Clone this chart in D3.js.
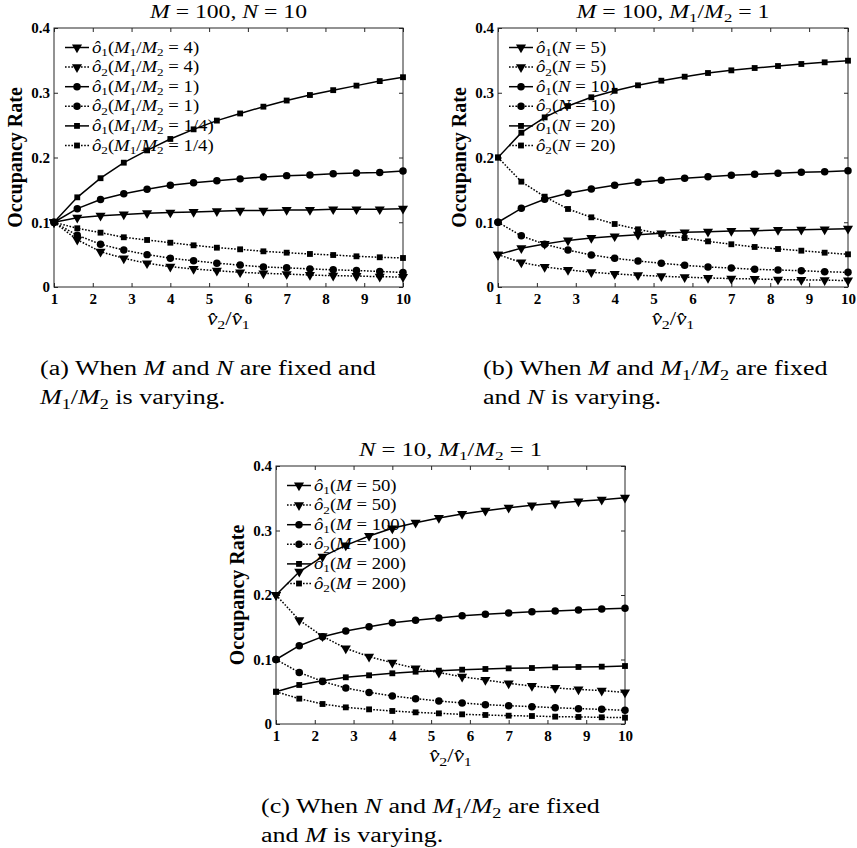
<!DOCTYPE html>
<html>
<head>
<meta charset="utf-8">
<script src="https://cdn.jsdelivr.net/npm/d3@7"></script>
<style>
  html, body { margin: 0; padding: 0; background: #fff; }
  svg { display: block; }
  svg text { font-family: "Liberation Serif", "Times New Roman", serif !important; white-space: pre; }
</style>
</head>
<body>
<svg id="fig" width="857" height="848" font-family="Liberation Serif, serif"></svg>
<script>
// Speed ratio v2/v1 sampled along the x axis
const vRatio = [1, 1.6, 2.2, 2.8, 3.4, 4, 4.6, 5.2, 5.8, 6.4, 7, 7.6, 8.2, 8.8, 9.4, 10];
const xTicks = [1, 2, 3, 4, 5, 6, 7, 8, 9, 10];
const yTicks = [0, 0.1, 0.2, 0.3, 0.4];
const yTickLabels = ["0", "0.1", "0.2", "0.3", "0.4"];

// (a) M = 100, N = 10, varying M1/M2
const a_o1_r4  = [0.100, 0.107, 0.110, 0.112, 0.114, 0.115, 0.116, 0.117, 0.118, 0.118, 0.119, 0.119, 0.120, 0.120, 0.120, 0.121];
const a_o2_r4  = [0.100, 0.073, 0.0545, 0.0443, 0.0366, 0.0314, 0.0278, 0.0252, 0.0227, 0.0211, 0.0200, 0.0185, 0.0175, 0.0170, 0.0159, 0.0154];
const a_o1_r1  = [0.100, 0.121, 0.135, 0.144, 0.151, 0.157, 0.161, 0.164, 0.167, 0.170, 0.172, 0.173, 0.175, 0.176, 0.177, 0.179];
const a_o2_r1  = [0.100, 0.080, 0.066, 0.057, 0.050, 0.0445, 0.0405, 0.0368, 0.0338, 0.0310, 0.0296, 0.0280, 0.0265, 0.0255, 0.0240, 0.0225];
const a_o1_r14 = [0.100, 0.1385, 0.168, 0.192, 0.211, 0.2286, 0.2435, 0.257, 0.268, 0.2785, 0.288, 0.2965, 0.304, 0.311, 0.318, 0.324];
const a_o2_r14 = [0.100, 0.0907, 0.0839, 0.0768, 0.0726, 0.0684, 0.0644, 0.0607, 0.0582, 0.0551, 0.0530, 0.0510, 0.0494, 0.0474, 0.0459, 0.0448];

// (b) M = 100, M1/M2 = 1, varying N
const b_o1_n5  = [0.050, 0.060, 0.0664, 0.072, 0.0757, 0.0783, 0.0808, 0.0829, 0.0844, 0.0854, 0.0865, 0.0870, 0.0880, 0.0885, 0.0890, 0.0900];
const b_o2_n5  = [0.050, 0.038, 0.031, 0.0265, 0.0228, 0.0202, 0.0182, 0.0166, 0.0152, 0.0140, 0.0130, 0.0124, 0.0115, 0.0110, 0.0105, 0.0100];
const b_o1_n10 = [0.100, 0.1215, 0.1354, 0.1447, 0.1514, 0.157, 0.1617, 0.1648, 0.168, 0.1704, 0.1725, 0.174, 0.1756, 0.1771, 0.178, 0.1796];
const b_o2_n10 = [0.100, 0.079, 0.066, 0.057, 0.0494, 0.0443, 0.0402, 0.0366, 0.0335, 0.0309, 0.0293, 0.0273, 0.0263, 0.0252, 0.0236, 0.0227];
const b_o1_n20 = [0.200, 0.2383, 0.262, 0.2795, 0.293, 0.303, 0.3115, 0.3186, 0.3248, 0.3305, 0.3346, 0.3382, 0.3413, 0.3444, 0.347, 0.3495];
const b_o2_n20 = [0.200, 0.1627, 0.1395, 0.1205, 0.1076, 0.0973, 0.0891, 0.0819, 0.0757, 0.0705, 0.066, 0.0618, 0.0587, 0.0561, 0.053, 0.0505];

// (c) N = 10, M1/M2 = 1, varying M
const c_o1_m50  = [0.200, 0.236, 0.2594, 0.277, 0.2915, 0.3034, 0.3121, 0.3194, 0.3256, 0.3307, 0.3354, 0.339, 0.3421, 0.3452, 0.3478, 0.3509];
const c_o2_m50  = [0.200, 0.161, 0.136, 0.1173, 0.1044, 0.095, 0.0863, 0.0796, 0.0734, 0.0682, 0.063, 0.0589, 0.0558, 0.0537, 0.0517, 0.0491];
const c_o1_m100 = [0.100, 0.1214, 0.1354, 0.1442, 0.1509, 0.157, 0.1607, 0.1643, 0.1679, 0.170, 0.172, 0.1741, 0.1752, 0.1767, 0.1783, 0.1793];
const c_o2_m100 = [0.100, 0.080, 0.066, 0.0558, 0.049, 0.0434, 0.0393, 0.0357, 0.0326, 0.030, 0.0284, 0.0269, 0.0253, 0.0238, 0.0227, 0.0212];
const c_o1_m200 = [0.050, 0.0605, 0.0672, 0.0724, 0.0755, 0.0786, 0.0811, 0.0827, 0.0842, 0.0853, 0.0863, 0.0868, 0.0879, 0.0884, 0.0889, 0.0899];
const c_o2_m200 = [0.050, 0.0393, 0.031, 0.0258, 0.0227, 0.0202, 0.0181, 0.0165, 0.015, 0.014, 0.0129, 0.0124, 0.0114, 0.0109, 0.0104, 0.0098];

// Legend labels: parts are [text, style] with i = italic, r = roman, s = subscript
const lbl = (o, param) => [["ô", "i"], [o, "s"], ["(", "r"]].concat(param, [[")", "r"]]);
const ratioParam = v => [["M", "i"], ["1", "s"], ["/", "r"], ["M", "i"], ["2", "s"], [" = " + v, "r"]];
const nParam = v => [["N", "i"], [" = " + v, "r"]];
const mParam = v => [["M", "i"], [" = " + v, "r"]];

const panels = [
  {
    box: { left: 54, right: 403, top: 28, bottom: 287 },
    title: [["M", "i"], [" = 100, ", "r"], ["N", "i"], [" = 10", "r"]],
    titleWidth: 157,
    caption: [
      [["(a) When ", "r"], ["M", "i"], [" and ", "r"], ["N", "i"], [" are fixed and", "r"]],
      [["M", "i"], ["1", "s"], ["/", "r"], ["M", "i"], ["2", "s"], [" is varying.", "r"]]
    ],
    captionX: 40, captionY: 375,
    series: [
      { v: a_o1_r4,  m: "tri", dash: false, label: lbl("1", ratioParam("4")) },
      { v: a_o2_r4,  m: "tri", dash: true,  label: lbl("2", ratioParam("4")) },
      { v: a_o1_r1,  m: "circ", dash: false, label: lbl("1", ratioParam("1")) },
      { v: a_o2_r1,  m: "circ", dash: true,  label: lbl("2", ratioParam("1")) },
      { v: a_o1_r14, m: "sq", dash: false, label: lbl("1", ratioParam("1/4")) },
      { v: a_o2_r14, m: "sq", dash: true,  label: lbl("2", ratioParam("1/4")) }
    ]
  },
  {
    box: { left: 498, right: 848, top: 28, bottom: 287 },
    title: [["M", "i"], [" = 100, ", "r"], ["M", "i"], ["1", "s"], ["/", "r"], ["M", "i"], ["2", "s"], [" = 1", "r"]],
    titleWidth: 193,
    caption: [
      [["(b) When ", "r"], ["M", "i"], [" and ", "r"], ["M", "i"], ["1", "s"], ["/", "r"], ["M", "i"], ["2", "s"], [" are fixed", "r"]],
      [["and ", "r"], ["N", "i"], [" is varying.", "r"]]
    ],
    captionX: 483, captionY: 375,
    series: [
      { v: b_o1_n5,  m: "tri", dash: false, label: lbl("1", nParam("5")) },
      { v: b_o2_n5,  m: "tri", dash: true,  label: lbl("2", nParam("5")) },
      { v: b_o1_n10, m: "circ", dash: false, label: lbl("1", nParam("10")) },
      { v: b_o2_n10, m: "circ", dash: true,  label: lbl("2", nParam("10")) },
      { v: b_o1_n20, m: "sq", dash: false, label: lbl("1", nParam("20")) },
      { v: b_o2_n20, m: "sq", dash: true,  label: lbl("2", nParam("20")) }
    ]
  },
  {
    box: { left: 276, right: 625, top: 466, bottom: 724 },
    title: [["N", "i"], [" = 10, ", "r"], ["M", "i"], ["1", "s"], ["/", "r"], ["M", "i"], ["2", "s"], [" = 1", "r"]],
    titleWidth: 183,
    caption: [
      [["(c) When ", "r"], ["N", "i"], [" and ", "r"], ["M", "i"], ["1", "s"], ["/", "r"], ["M", "i"], ["2", "s"], [" are fixed", "r"]],
      [["and ", "r"], ["M", "i"], [" is varying.", "r"]]
    ],
    captionX: 261, captionY: 813,
    series: [
      { v: c_o1_m50,  m: "tri", dash: false, label: lbl("1", mParam("50")) },
      { v: c_o2_m50,  m: "tri", dash: true,  label: lbl("2", mParam("50")) },
      { v: c_o1_m100, m: "circ", dash: false, label: lbl("1", mParam("100")) },
      { v: c_o2_m100, m: "circ", dash: true,  label: lbl("2", mParam("100")) },
      { v: c_o1_m200, m: "sq", dash: false, label: lbl("1", mParam("200")) },
      { v: c_o2_m200, m: "sq", dash: true,  label: lbl("2", mParam("200")) }
    ]
  }
];

const svg = d3.select("#fig");
const AXIS_COLOR = "#262626";
const SERIF = "'Liberation Serif', 'Times New Roman', serif";

// Writes math-style text made of italic, roman and subscript runs;
// widen > 1 stretches the run to imitate the wider TeX typeface
function mathText(g, parts, size, widen, fixedWidth) {
  const t = g.append("text").attr("font-size", size).attr("fill", "#000").attr("font-family", SERIF);
  let shifted = false;
  parts.forEach(([s, style]) => {
    const ts = t.append("tspan").text(s);
    if (style === "s") {
      ts.attr("font-size", size * 0.7).attr("dy", shifted ? 0 : size * 0.22);
      shifted = true;
    } else {
      if (shifted) { ts.attr("dy", -size * 0.22); shifted = false; }
      if (style === "i") ts.attr("font-style", "italic");
    }
  });
  const natural = t.node().getComputedTextLength();
  const target = fixedWidth || natural * (widen || 1);
  if (Math.abs(target - natural) > 0.5) {
    t.attr("textLength", target).attr("lengthAdjust", "spacingAndGlyphs");
  }
  return t;
}

const symbols = {
  tri: d3.symbol().type(d3.symbolTriangle).size(44),
  circ: d3.symbol().type(d3.symbolCircle).size(44),
  sq: d3.symbol().type(d3.symbolSquare).size(34)
};
const rot = m => (m === "tri" ? " rotate(180)" : "");

panels.forEach(p => {
  const b = p.box;
  const x = d3.scaleLinear().domain([1, 10]).range([b.left, b.right]);
  const y = d3.scaleLinear().domain([0, 0.4]).range([b.bottom, b.top]);
  const g = svg.append("g");

  // plot area frame with inward ticks on all sides
  const tickLen = 4;
  g.append("g").attr("transform", `translate(0,${b.bottom})`)
    .call(d3.axisBottom(x).tickValues(xTicks).tickSize(-tickLen).tickPadding(6).tickFormat(d3.format("d")))
    .call(s => s.select(".domain").remove());
  g.append("g").attr("transform", `translate(0,${b.top})`)
    .call(d3.axisTop(x).tickValues(xTicks).tickSize(-tickLen).tickFormat(""))
    .call(s => s.select(".domain").remove());
  g.append("g").attr("transform", `translate(${b.left},0)`)
    .call(d3.axisLeft(y).tickValues(yTicks).tickSize(-tickLen).tickPadding(4).tickFormat((d, i) => yTickLabels[i]))
    .call(s => s.select(".domain").remove());
  g.append("g").attr("transform", `translate(${b.right},0)`)
    .call(d3.axisRight(y).tickValues(yTicks).tickSize(-tickLen).tickFormat(""))
    .call(s => s.select(".domain").remove());
  g.selectAll("g").attr("font-family", SERIF);
  g.selectAll(".tick line").attr("stroke", AXIS_COLOR).attr("stroke-width", 1);
  g.selectAll(".tick text")
    .attr("font-family", SERIF)
    .attr("font-weight", "bold").attr("font-size", 15).attr("fill", "#000");
  g.append("rect")
    .attr("x", b.left).attr("y", b.top)
    .attr("width", b.right - b.left).attr("height", b.bottom - b.top)
    .attr("fill", "none").attr("stroke", AXIS_COLOR).attr("stroke-width", 1);

  // series lines and markers
  const line = d3.line().x((d, i) => x(vRatio[i])).y(d => y(d));
  p.series.forEach(s => {
    g.append("path").datum(s.v)
      .attr("d", line).attr("fill", "none").attr("stroke", "#000")
      .attr("stroke-width", 1.5)
      .attr("stroke-dasharray", s.dash ? "1.6,1.6" : null);
    g.append("g").selectAll("path").data(s.v).join("path")
      .attr("d", symbols[s.m])
      .attr("transform", (d, i) => `translate(${x(vRatio[i])},${y(d)})${rot(s.m)}`)
      .attr("fill", "#000");
  });

  // legend in the upper-left corner
  const lg = g.append("g").attr("transform", `translate(${b.left + 11},${b.top + 19.5})`);
  p.series.forEach((s, i) => {
    const row = lg.append("g").attr("transform", `translate(0,${i * 19.6})`);
    row.append("line").attr("x1", 0).attr("x2", 24).attr("y1", 0).attr("y2", 0)
      .attr("stroke", "#000").attr("stroke-width", 1.5)
      .attr("stroke-dasharray", s.dash ? "1.6,1.6" : null);
    row.append("path").attr("d", symbols[s.m]).attr("transform", `translate(12,0)${rot(s.m)}`).attr("fill", "#000");
    mathText(row, s.label, 16, 1.17).attr("x", 27).attr("y", 5);
  });

  // title, axis labels
  mathText(g, p.title, 18, 1, p.titleWidth)
    .attr("x", (b.left + b.right) / 2).attr("y", b.top - 10).attr("text-anchor", "middle");
  g.append("text")
    .attr("transform", `translate(${b.left - 32},${(b.top + b.bottom) / 2}) rotate(-90)`)
    .attr("text-anchor", "middle").attr("font-weight", "bold").attr("font-size", 20)
    .attr("font-family", SERIF)
    .text("Occupancy Rate");
  mathText(g, [["v̂", "i"], ["2", "s"], ["/", "r"], ["v̂", "i"], ["1", "s"]], 19, 1.2)
    .attr("x", (b.left + b.right) / 2).attr("y", b.bottom + 38).attr("text-anchor", "middle");

  // caption below the plot
  p.caption.forEach((ln, i) => {
    mathText(svg, ln, 20.5, 1.27).attr("x", p.captionX).attr("y", p.captionY + i * 29);
  });
});
</script>
</body>
</html>
